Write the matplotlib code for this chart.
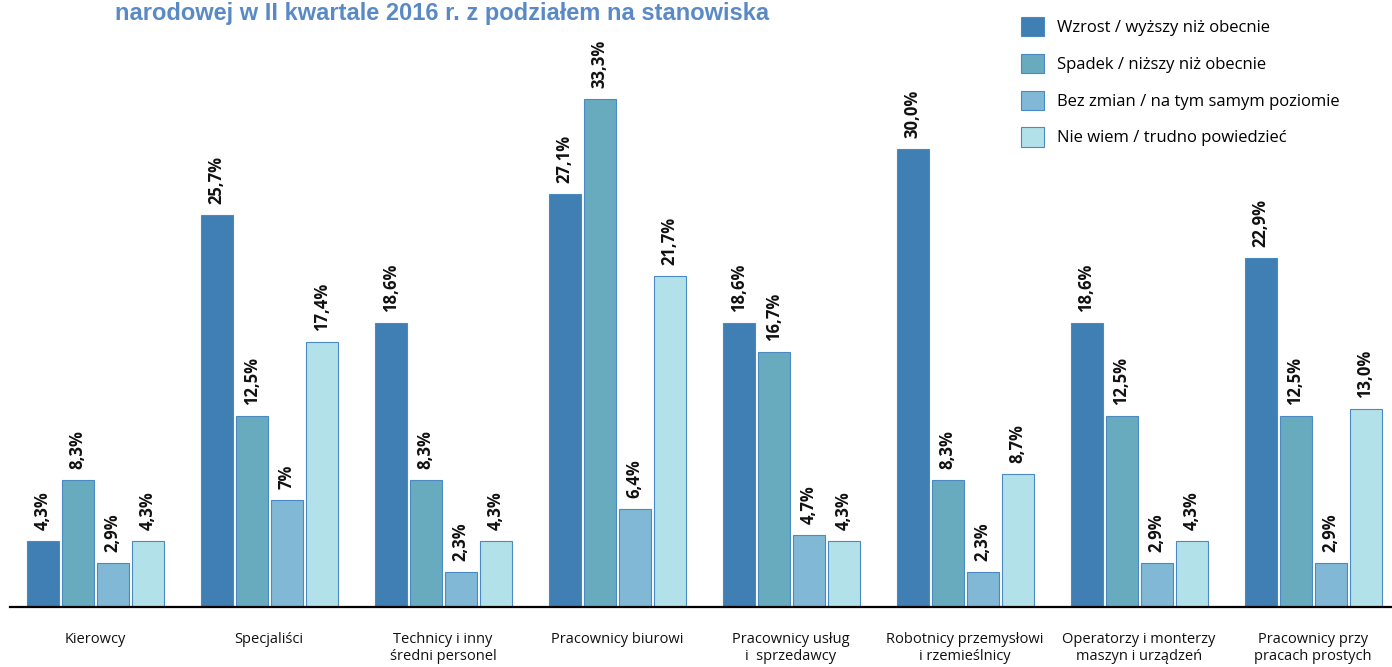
import matplotlib.pyplot as plt
import numpy as np

categories = ['Kierowcy', 'Specjaliści', 'Technicy i inny\nśredni personel', 'Pracownicy biurowi',
              'Pracownicy usług\ni  sprzedawcy', 'Robotnicy przemysłowi\ni rzemieślnicy',
              'Operatorzy i monterzy\nmaszyn i urządzeń', 'Pracownicy przy\npracach prostych']
series_names = ['Wzrost / wyższy niż obecnie', 'Spadek / niższy niż obecnie',
                'Bez zmian / na tym samym poziomie', 'Nie wiem / trudno powiedzieć']
wzrost = [4.3, 25.7, 18.6, 27.1, 18.6, 30.0, 18.6, 22.9]
spadek = [8.3, 12.5, 8.3, 33.3, 16.7, 8.3, 12.5, 12.5]
bez_zmian = [2.9, 7.0, 2.3, 6.4, 4.7, 2.3, 2.9, 2.9]
nie_wiem = [4.3, 17.4, 4.3, 21.7, 4.3, 8.7, 4.3, 13.0]
wzrost_lbl = ['4,3%', '25,7%', '18,6%', '27,1%', '18,6%', '30,0%', '18,6%', '22,9%']
spadek_lbl = ['8,3%', '12,5%', '8,3%', '33,3%', '16,7%', '8,3%', '12,5%', '12,5%']
bez_zmian_lbl = ['2,9%', '7%', '2,3%', '6,4%', '4,7%', '2,3%', '2,9%', '2,9%']
nie_wiem_lbl = ['4,3%', '17,4%', '4,3%', '21,7%', '4,3%', '8,7%', '4,3%', '13,0%']
title = 'narodowej w II kwartale 2016 r. z podziałem na stanowiska'

colors = ['#3f7fb4', '#68abbf', '#80b8d6', '#b3e1ea']
edge = '#4a8ac4'

fig = plt.figure(figsize=(13.92, 6.67), dpi=100)
ax = fig.add_axes([10 / 1392, 60 / 667, 1382 / 1392, 607 / 667])

x = np.arange(len(categories))
step = 35 / 174
width = 32 / 174
series = [wzrost, spadek, bez_zmian, nie_wiem]
labels = [wzrost_lbl, spadek_lbl, bez_zmian_lbl, nie_wiem_lbl]
handles = []
for i, (vals, lbls) in enumerate(zip(series, labels)):
    pos = x + (i - 1.5) * step
    b = ax.bar(pos, vals, width=width, color=colors[i], edgecolor=edge, linewidth=0.8,
               label=series_names[i])
    handles.append(b)
    for p, v, t in zip(pos, vals, lbls):
        ax.annotate(t, (p, v), xytext=(0, 8), textcoords='offset points', rotation=90,
                    ha='center', va='bottom', fontsize=12, fontweight='bold',
                    family='Open Sans', color='#111111')

ax.set_xlim(-0.489, 7.454)
ax.set_ylim(0, 39.8)
for s in ['top', 'right', 'left']:
    ax.spines[s].set_visible(False)
ax.spines['bottom'].set_linewidth(1.6)
ax.set_yticks([])
ax.set_xticks(x)
ax.set_xticklabels(categories, fontsize=10.5, family='Open Sans', color='#111111',
                   linespacing=1.15)
ax.tick_params(axis='x', length=0, pad=18)

fig.text(115 / 1392, 1 - 2 / 667, title, ha='left', va='top', fontsize=17, fontweight='bold',
         family='Liberation Sans', color='#5a8ac6')

leg = fig.legend(handles=handles, loc='upper left', bbox_to_anchor=(1006 / 1392, 1 - 2 / 667),
                 frameon=False, prop={'family': 'Open Sans', 'size': 12},
                 handlelength=1.4, handleheight=1.4, labelspacing=1.05, handletextpad=0.75)

fig.savefig('out.png', dpi=100)
